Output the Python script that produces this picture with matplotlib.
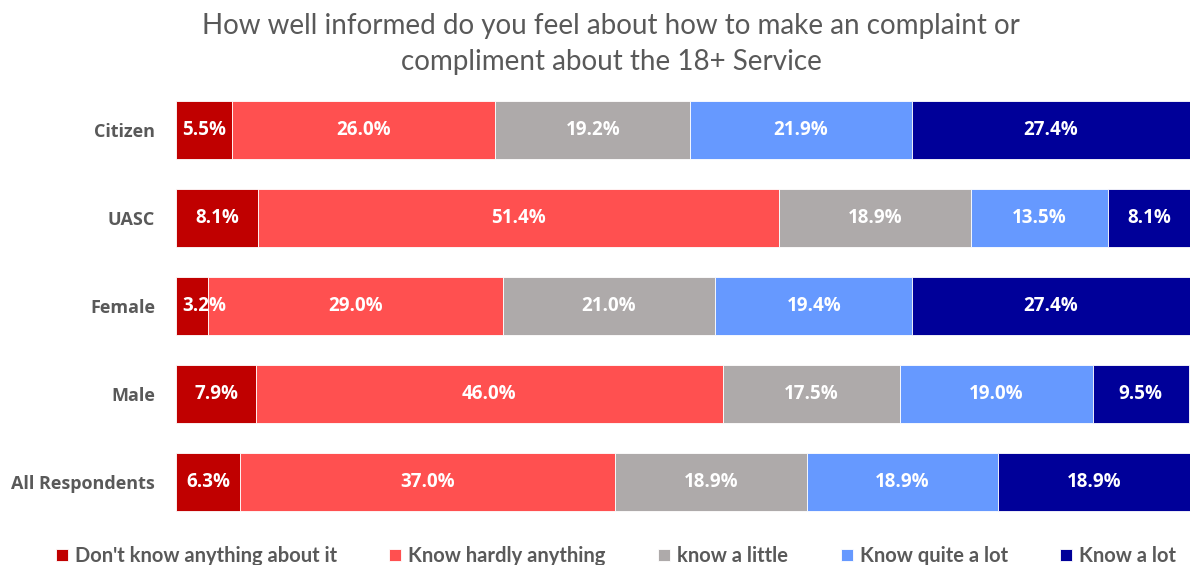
import matplotlib.pyplot as plt
import numpy as np

plt.rcParams['font.family'] = ['Lato', 'DejaVu Sans']

groups = ['Citizen', 'UASC', 'Female', 'Male', 'All Respondents']
responses = ["Don't know anything about it", 'Know hardly anything',
             'know a little', 'Know quite a lot', 'Know a lot']
dont_know = [5.5, 8.1, 3.2, 7.9, 6.3]
hardly = [26.0, 51.4, 29.0, 46.0, 37.0]
little = [19.2, 18.9, 21.0, 17.5, 18.9]
quite_a_lot = [21.9, 13.5, 19.4, 19.0, 18.9]
a_lot = [27.4, 8.1, 27.4, 9.5, 18.9]
colors = ['#C00000', '#FF5050', '#AEAAAA', '#6699FF', '#000099']

series = [dont_know, hardly, little, quite_a_lot, a_lot]
label_font = ['Open Sans', 'DejaVu Sans']

fig = plt.figure(figsize=(11.9, 5.65), dpi=100)
ax = fig.add_axes([176 / 1190, 1 - 526 / 565, 1014 / 1190, 440 / 565])

# top group first, so reverse the y positions
ypos = np.arange(len(groups))[::-1]
left = np.zeros(len(groups))
for vals, name, col in zip(series, responses, colors):
    vals = np.array(vals)
    ax.barh(ypos, vals, left=left, height=0.66, color=col,
            edgecolor='white', linewidth=0.6, label=name)
    for y, l, v in zip(ypos, left, vals):
        # small first segments: keep the label inside the plot area
        if l == 0 and v < 4.5:
            ax.text(0.6, y, f'{v:.1f}%', ha='left', va='center',
                    color='white', fontsize=13.5, fontweight='bold',
                    family=label_font)
        else:
            ax.text(l + v / 2, y, f'{v:.1f}%', ha='center', va='center',
                    color='white', fontsize=13.5, fontweight='bold',
                    family=label_font)
    left += vals

ax.set_xlim(0, 100)
ax.set_ylim(-0.5, 4.5)
ax.set_yticks(ypos)
ax.set_yticklabels(groups, fontsize=13, fontweight='bold', color='#595959',
                   family=label_font)
ax.tick_params(axis='y', length=0, pad=15)
ax.set_xticks([])
for s in ax.spines.values():
    s.set_visible(False)

fig.text(611 / 1190, 1 - 44 / 565,
         'How well informed do you feel about how to make an complaint or\ncompliment about the 18+ Service',
         ha='center', va='center', fontsize=20, color='#595959',
         linespacing=1.5)

fig.legend(loc='center', bbox_to_anchor=(616 / 1190, 1 - 556 / 565), ncol=5,
           frameon=False, handlelength=0.6, handleheight=0.6, handletextpad=0.35,
           columnspacing=2.6, prop={'size': 14.5, 'weight': 'bold'},
           labelcolor='#595959')

fig.savefig('out.png', dpi=100)
